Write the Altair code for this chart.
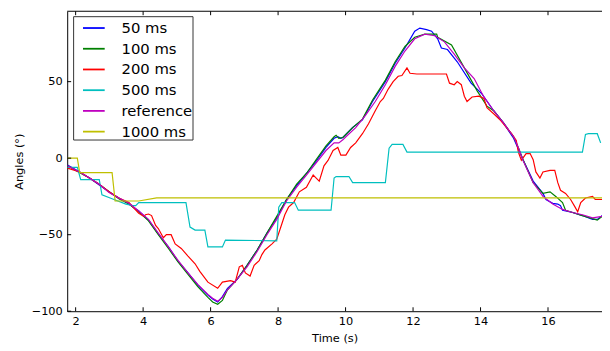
import altair as alt
import pandas as pd

series_names = ["50 ms", "100 ms", "200 ms", "500 ms", "reference", "1000 ms"]
series_colors = ["#0000ff", "#008000", "#ff0000", "#00bfbf", "#bf00bf", "#bfbf00"]

x_ticks = [2, 4, 6, 8, 10, 12, 14, 16]
y_ticks = [-100, -50, 0, 50]

t_50 = [1.76, 2.12, 2.41, 2.70, 2.99, 3.28, 3.58, 3.87, 4.16, 4.45, 4.75, 5.04, 5.33, 5.62, 5.92, 6.06, 6.21, 6.35, 6.50, 6.79, 7.08, 7.38, 7.67, 7.96, 8.25, 8.55, 8.84, 9.13, 9.42, 9.66, 9.77, 9.86, 9.92, 10.21, 10.50, 10.80, 11.18, 11.47, 11.76, 12.05, 12.20, 12.40, 12.55, 12.73, 12.84, 13.02, 13.31, 13.72, 14.04, 14.39, 14.68, 14.98, 15.12, 15.26, 15.56, 15.85, 15.94, 16.14, 16.29, 16.37, 16.43, 16.73, 17.02, 17.32, 17.46, 17.61]
v_50 = [-4.5, -9, -13, -17.5, -22, -26, -30, -34.5, -40.5, -49.5, -58, -67.5, -75, -83, -89.5, -92, -94, -90.5, -85, -79, -70, -60, -49, -39, -27, -18, -10, -2, 7, 13, 14, 13, 13.5, 20, 25, 37, 50, 62, 72, 83, 85, 84, 83, 78, 72, 71, 63, 49, 42, 31, 23, 13, 6, -1, -15, -23, -27, -29.5, -30, -31, -34, -35.5, -37.5, -40, -40, -37.5]

t_100 = [1.76, 2.12, 2.41, 2.70, 2.99, 3.28, 3.58, 3.87, 4.16, 4.45, 4.75, 5.04, 5.33, 5.62, 5.92, 6.06, 6.21, 6.35, 6.50, 6.79, 7.08, 7.38, 7.67, 7.96, 8.25, 8.55, 8.84, 9.13, 9.42, 9.66, 9.72, 9.80, 9.92, 10.21, 10.50, 10.80, 11.18, 11.47, 11.76, 12.05, 12.35, 12.70, 12.73, 13.14, 13.52, 13.90, 14.19, 14.39, 14.68, 14.98, 15.12, 15.26, 15.56, 15.85, 16.06, 16.23, 16.43, 16.52, 16.73, 17.02, 17.32, 17.46, 17.61]
v_100 = [-5, -9.5, -13, -17, -22, -26.5, -30, -35, -41, -50, -59, -68, -76, -84, -91, -94, -95.5, -93, -86, -79, -70, -60, -49, -38, -27, -17, -10, -1, 8, 14, 15, 13, 13.5, 20, 25.5, 38, 51, 63, 73, 79, 81, 81, 79, 74, 59, 44, 34, 31, 23, 14, 7, -1, -16, -23, -22, -25, -29, -34, -35.5, -37.5, -39.5, -40.5, -38]

t_200 = [1.76, 2.12, 2.41, 2.70, 2.99, 3.28, 3.58, 3.87, 4.02, 4.07, 4.16, 4.25, 4.37, 4.45, 4.60, 4.69, 4.83, 4.95, 5.13, 5.33, 5.54, 5.68, 5.92, 6.21, 6.35, 6.59, 6.73, 6.85, 6.94, 7.03, 7.17, 7.29, 7.44, 7.52, 7.61, 7.82, 7.96, 8.11, 8.20, 8.31, 8.46, 8.63, 8.84, 9.04, 9.13, 9.22, 9.36, 9.48, 9.63, 9.77, 9.86, 10.01, 10.15, 10.30, 10.50, 10.68, 10.88, 11.03, 11.12, 11.26, 11.41, 11.56, 11.67, 11.82, 11.91, 12.11, 12.99, 13.08, 13.22, 13.31, 13.43, 13.52, 13.60, 13.75, 13.95, 14.10, 14.19, 14.39, 14.60, 14.77, 14.92, 15.06, 15.12, 15.21, 15.35, 15.47, 15.56, 15.64, 15.76, 15.85, 16.06, 16.20, 16.29, 16.37, 16.52, 16.67, 16.79, 16.88, 16.97, 17.11, 17.32, 17.40, 17.61]
v_200 = [-6.5, -9, -13, -17, -22, -26, -29, -36, -38, -37, -36.5, -37.5, -44, -46, -52, -50, -50, -56, -59, -64, -69, -74, -81, -85, -81, -80, -81, -71, -70, -75, -77, -70, -67, -63, -60, -56, -53, -43, -37, -32, -29, -22, -19, -11, -13, -15, -5, -1.5, 5, 7, 2, 2, 7, 10, 16, 22.5, 31, 37, 39, 45, 50, 53.5, 54, 59, 55.5, 55, 55, 49, 48, 50, 48, 40.5, 37, 40, 40.5, 39, 33, 29, 24.5, 20, 16, 11.6, 4, -1.3, 3, 3, -1, -9, -13, -9, -8, -8, -16, -21, -23, -27, -31.5, -35, -29, -26, -25, -27, -27]

t_500 = [1.76, 2.05, 2.15, 2.70, 2.78, 3.08, 3.49, 3.70, 3.78, 3.87, 5.27, 5.39, 5.54, 5.83, 5.92, 6.35, 6.44, 7.96, 8.02, 8.11, 8.49, 8.60, 9.57, 9.66, 9.72, 10.10, 10.21, 11.18, 11.29, 11.38, 11.70, 11.82, 17.02, 17.11, 17.20, 17.46, 17.56]
v_500 = [-6, -6, -14, -14, -24, -26.5, -30, -31, -31, -29, -29, -45, -47, -47, -58, -58, -53.5, -54, -32, -29, -29, -34, -34, -13, -12, -12, -16, -16, 6.5, 9, 9, 4, 4, 15.5, 16, 16, 10]

t_ref = [1.76, 2.12, 2.41, 2.70, 2.99, 3.28, 3.58, 3.87, 4.16, 4.45, 4.75, 5.04, 5.33, 5.62, 5.92, 6.06, 6.21, 6.35, 6.50, 6.79, 7.08, 7.38, 7.67, 7.96, 8.25, 8.55, 8.84, 9.13, 9.42, 9.66, 9.80, 9.92, 10.01, 10.30, 10.59, 10.88, 11.18, 11.47, 11.76, 12.05, 12.35, 12.64, 12.93, 13.22, 13.52, 13.81, 14.10, 14.39, 14.68, 14.98, 15.12, 15.26, 15.56, 15.85, 16.14, 16.43, 16.73, 17.02, 17.32, 17.61]
v_ref = [-5, -9, -13, -17, -22.5, -26, -29.5, -34.5, -40, -49, -58, -67, -75, -82.5, -89, -91.5, -93.5, -91, -86, -79, -71, -61, -50, -40, -28, -19, -11, -3, 5, 10, 10, 12, 14, 20, 28, 37, 48, 60, 70, 78, 81, 80, 76, 68, 59, 52, 40, 31, 23, 14, 7, -1.5, -16, -25, -30, -33.5, -35.5, -37, -39, -38]

t_1000 = [1.76, 2.05, 2.12, 3.08, 3.17, 3.87, 4.40, 17.61]
v_1000 = [0, 0, -9.5, -9.5, -28, -28, -26, -26]

all_t = [t_50, t_100, t_200, t_500, t_ref, t_1000]
all_v = [v_50, v_100, v_200, v_500, v_ref, v_1000]

frames = []
for name, ts, vs in zip(series_names, all_t, all_v):
    frames.append(pd.DataFrame({"t": ts, "v": vs, "series": name}))
df = pd.concat(frames, ignore_index=True)

W = 542
H = 304
FONT = "DejaVu Sans"

x_scale = alt.Scale(domain=[1.75, 17.6], nice=False, zero=False)
y_scale = alt.Scale(domain=[-100, 96], nice=False, zero=False)

x_axis = alt.Axis(values=x_ticks, tickSize=0, labelPadding=4, grid=False,
                  domainColor="black", domainWidth=1,
                  title="Time (s)", titleX=W / 2, titleY=28,
                  titleBaseline="middle", titleAlign="center")
y_axis = alt.Axis(values=y_ticks, tickSize=0, labelPadding=5, grid=False,
                  domainColor="black", domainWidth=1,
                  title="Angles (°)", titleX=-48, titleY=H / 2,
                  titleAngle=270, titleBaseline="middle", titleAlign="center")

lines = alt.Chart(df).mark_line(strokeWidth=1.2, clip=True).encode(
    x=alt.X("t:Q", scale=x_scale, axis=x_axis),
    y=alt.Y("v:Q", scale=y_scale, axis=y_axis),
    color=alt.Color("series:N", sort=series_names,
                    scale=alt.Scale(domain=series_names, range=series_colors),
                    legend=alt.Legend(title=None, orient="none", legendX=6, legendY=5,
                                      symbolType="stroke", symbolSize=484,
                                      symbolStrokeWidth=1.8, symbolOffset=9,
                                      labelFontSize=15, labelFont=FONT, labelColor="black",
                                      strokeColor="#333333", fillColor="white",
                                      padding=0, rowPadding=1, labelOffset=16)),
)

xt_df = pd.DataFrame({"t": x_ticks})
yt_df = pd.DataFrame({"v": y_ticks})

bottom_ticks = alt.Chart(xt_df).mark_rule(color="black", strokeWidth=1).encode(
    x=alt.X("t:Q", scale=x_scale, axis=x_axis), y=alt.value(H), y2=alt.value(H - 4))
top_ticks = alt.Chart(xt_df).mark_rule(color="black", strokeWidth=1).encode(
    x=alt.X("t:Q", scale=x_scale, axis=x_axis), y=alt.value(0), y2=alt.value(4))
left_ticks = alt.Chart(yt_df).mark_rule(color="black", strokeWidth=1).encode(
    y=alt.Y("v:Q", scale=y_scale, axis=y_axis), x=alt.value(0), x2=alt.value(4))
top_frame = alt.Chart(pd.DataFrame({"k": [0]})).mark_rule(color="black", strokeWidth=1).encode(
    x=alt.value(0), x2=alt.value(W), y=alt.value(0))

chart = alt.layer(lines, bottom_ticks, top_ticks, left_ticks, top_frame).properties(
    width=W, height=H,
    autosize=alt.AutoSizeParams(type="none"),
    padding={"left": 60, "top": 1, "right": 0, "bottom": 36},
).configure_view(stroke=None).configure_axis(
    labelFont=FONT, titleFont=FONT, labelFontSize=11.5, titleFontSize=11.5,
    labelColor="black", titleColor="black", titleFontWeight="normal",
)

chart.save("out.html", embed_options={"renderer": "svg", "actions": False})
